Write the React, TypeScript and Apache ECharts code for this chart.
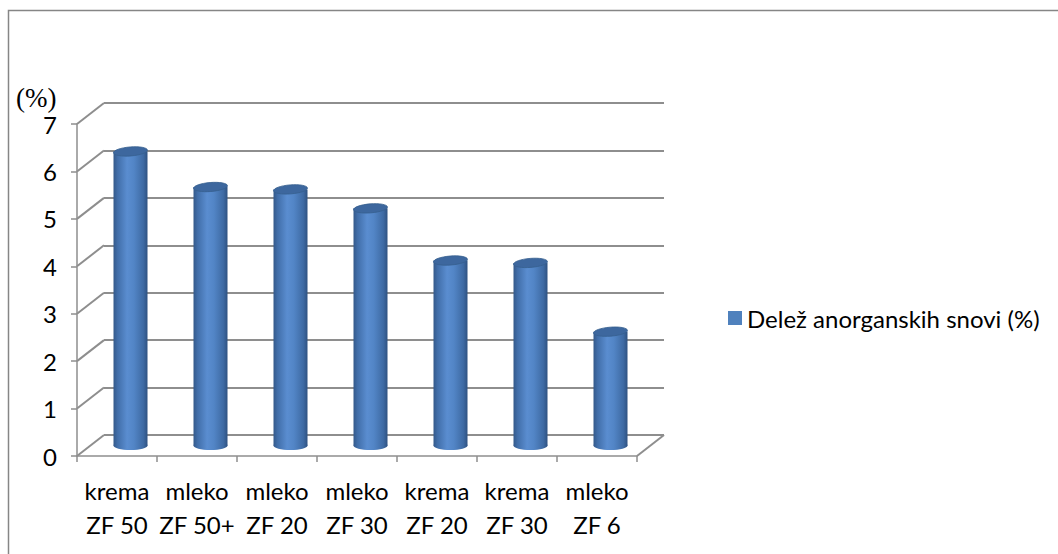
import React, { useEffect, useRef } from "react";
import * as echarts from "echarts";

const categories = ["krema\nZF 50", "mleko\nZF 50+", "mleko\nZF 20", "mleko\nZF 30", "krema\nZF 20", "krema\nZF 30", "mleko\nZF 6"];
const values = [6.2, 5.45, 5.4, 5.0, 3.9, 3.85, 2.4];
const yTicks = [0, 1, 2, 3, 4, 5, 6, 7];
const seriesName = "Delež anorganskih snovi (%)";
const unitLabel = "(%)";

const DX = 27;
const DY = -21;
const RX = 17;
const RY = 4.5;
const GRID_COLOR = "#8e8e8e";
const FONT = "Lato, Carlito, 'Liberation Sans', sans-serif";

export default function App() {
  const ref = useRef<HTMLDivElement>(null);
  useEffect(() => {
    if (!ref.current) return;
    const chart = echarts.init(ref.current, null, { renderer: "svg" });
    const front = { left: 77, right: 421, top: 124, bottom: 98 };
    const back = { left: 77 + DX, right: 421 - DX, top: 124 + DY, bottom: 98 - DY };
    chart.setOption({
      animation: false,
      backgroundColor: "#ffffff",
      grid: [
        { ...front, containLabel: false },
        { ...back, containLabel: false },
      ],
      xAxis: [
        {
          type: "category",
          gridIndex: 0,
          data: categories,
          boundaryGap: true,
          axisLine: { show: true, lineStyle: { color: GRID_COLOR, width: 1.5 } },
          axisTick: { show: true, length: 6, lineStyle: { color: GRID_COLOR, width: 1.5 } },
          axisLabel: { color: "#000", fontSize: 24, lineHeight: 34, fontFamily: FONT, margin: 17, interval: 0 },
        },
        {
          type: "category",
          gridIndex: 1,
          data: categories,
          show: false,
        },
      ],
      yAxis: [
        {
          type: "value",
          gridIndex: 0,
          min: 0,
          max: 7,
          interval: 1,
          axisLine: { show: true, lineStyle: { color: GRID_COLOR, width: 1.5 } },
          axisTick: { show: true, length: 6, lineStyle: { color: GRID_COLOR, width: 1.5 } },
          axisLabel: { color: "#000", fontSize: 24, fontFamily: FONT, margin: 20 },
          splitLine: { show: false },
        },
        {
          type: "value",
          gridIndex: 1,
          min: 0,
          max: 7,
          interval: 1,
          axisLine: { show: false },
          axisTick: { show: false },
          axisLabel: { show: false },
          splitLine: { show: true, lineStyle: { color: GRID_COLOR, width: 2 } },
        },
      ],
      legend: {
        data: [{ name: seriesName, icon: "rect" }],
        left: 723,
        top: 301,
        itemWidth: 14,
        itemHeight: 14,
        itemGap: 8,
        textStyle: { fontSize: 24, fontFamily: FONT, color: "#000" },
      },
      graphic: [
        {
          type: "rect",
          shape: { x: 8.5, y: 10.5, width: 1200, height: 700 },
          style: { fill: "none", stroke: "#868686", lineWidth: 1.5 },
          silent: true,
        },
        {
          type: "text",
          left: 16,
          top: 84,
          style: { text: unitLabel, fontSize: 27, fontFamily: "Liberation Serif", fill: "#000" },
        },
      ],
      series: [
        {
          type: "custom",
          name: "walls",
          xAxisIndex: 0,
          yAxisIndex: 0,
          silent: true,
          data: yTicks.map((v) => [0, v]),
          renderItem: (params: any, api: any) => {
            const v = api.value(1);
            const y = api.coord([0, v])[1];
            const cs = params.coordSys;
            const children: any[] = [
              {
                type: "line",
                shape: { x1: cs.x, y1: y, x2: cs.x + DX, y2: y + DY },
                style: { stroke: GRID_COLOR, lineWidth: 2 },
              },
            ];
            if (v === 0) {
              children.push({
                type: "line",
                shape: { x1: cs.x + cs.width, y1: y, x2: cs.x + cs.width + DX, y2: y + DY },
                style: { stroke: GRID_COLOR, lineWidth: 2 },
              });
            }
            return { type: "group", children };
          },
          z: 1,
        },
        {
          type: "custom",
          name: seriesName,
          xAxisIndex: 0,
          yAxisIndex: 0,
          itemStyle: { color: "#4F81BD" },
          data: values.map((v, i) => [i, v]),
          renderItem: (params: any, api: any) => {
            const idx = api.value(0);
            const v = api.value(1);
            const top = api.coord([idx, v]);
            const base = api.coord([idx, 0]);
            const cx = top[0] + DX / 2;
            const ty = top[1] + DY / 2;
            const by = base[1] + DY / 2;
            const body = new echarts.graphic.LinearGradient(0, 0, 1, 0, [
              { offset: 0, color: "#34598A" },
              { offset: 0.12, color: "#416EA9" },
              { offset: 0.4, color: "#5A8DD0" },
              { offset: 0.6, color: "#5285C6" },
              { offset: 0.88, color: "#3E6AA3" },
              { offset: 1, color: "#2F5281" },
            ]);
            return {
              type: "group",
              children: [
                {
                  type: "ellipse",
                  shape: { cx, cy: by, rx: RX, ry: RY },
                  style: { fill: body },
                },
                {
                  type: "rect",
                  shape: { x: cx - RX, y: ty, width: 2 * RX, height: by - ty },
                  style: { fill: body },
                },
                {
                  type: "ellipse",
                  shape: { cx: 0, cy: 0, rx: RX, ry: RY },
                  x: cx,
                  y: ty,
                  rotation: 0.08,
                  style: { fill: "#3D679E", stroke: "#36608F", lineWidth: 0.8 },
                },
              ],
            };
          },
          z: 3,
        },
      ],
    });
    return () => chart.dispose();
  }, []);
  return <div ref={ref} style={{ position: "fixed", left: 0, top: 0, width: 1058, height: 554 }} />;
}
